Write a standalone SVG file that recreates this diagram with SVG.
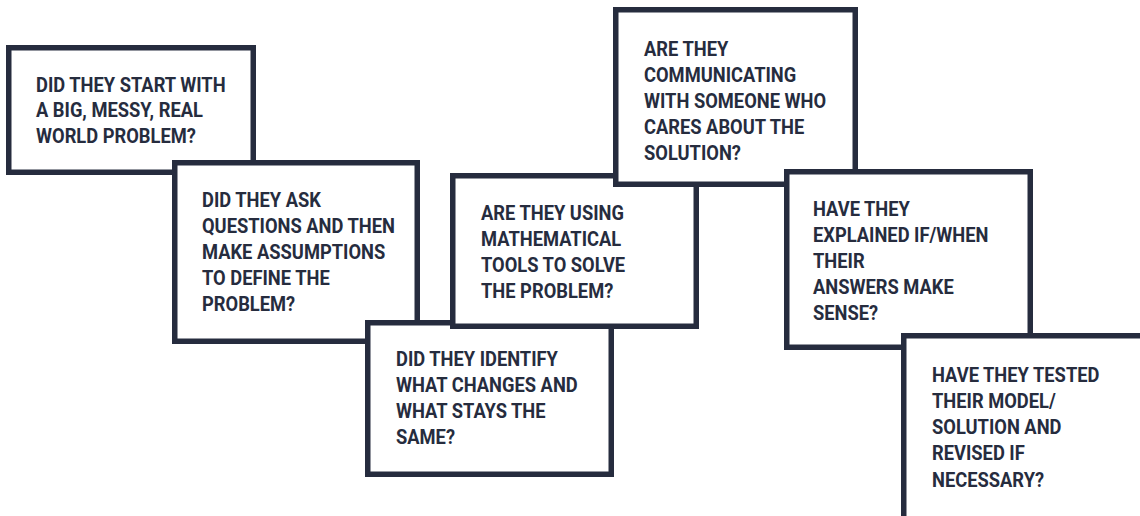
<svg xmlns="http://www.w3.org/2000/svg" width="1140" height="516" viewBox="0 0 1140 516">
<style>
.box{fill:#ffffff;stroke:#262c3e;stroke-width:5.5}
.t{font-family:Roboto,"Liberation Sans",sans-serif;font-weight:700;font-size:19.8px;fill:#262c3e}
</style>
<rect width="1140" height="516" fill="#ffffff"/>
<g id="connectors"/>
<g id="n1">
<rect class="box" x="8.75" y="47.75" width="244.5" height="124.5"/>
<text class="t" transform="translate(36 0) scale(0.925 1)"><tspan x="0" y="92">DID THEY START WITH</tspan><tspan x="0" y="117.5">A BIG, MESSY, REAL</tspan><tspan x="0" y="143">WORLD PROBLEM?</tspan></text>
</g>
<g id="n2">
<rect class="box" x="174.75" y="162.75" width="242.5" height="178.5"/>
<text class="t" transform="translate(202 0) scale(0.925 1)"><tspan x="0" y="207">DID THEY ASK</tspan><tspan x="0" y="233">QUESTIONS AND THEN</tspan><tspan x="0" y="259">MAKE ASSUMPTIONS</tspan><tspan x="0" y="285">TO DEFINE THE</tspan><tspan x="0" y="311">PROBLEM?</tspan></text>
</g>
<g id="n3">
<rect class="box" x="367.75" y="322.75" width="243.5" height="151.5"/>
<text class="t" transform="translate(396 0) scale(0.925 1)"><tspan x="0" y="366">DID THEY IDENTIFY</tspan><tspan x="0" y="392">WHAT CHANGES AND</tspan><tspan x="0" y="418">WHAT STAYS THE</tspan><tspan x="0" y="444">SAME?</tspan></text>
</g>
<g id="n4">
<rect class="box" x="452.75" y="175.75" width="243.5" height="150.5"/>
<text class="t" transform="translate(481 0) scale(0.925 1)"><tspan x="0" y="220">ARE THEY USING</tspan><tspan x="0" y="246">MATHEMATICAL</tspan><tspan x="0" y="272">TOOLS TO SOLVE</tspan><tspan x="0" y="298">THE PROBLEM?</tspan></text>
</g>
<g id="n5">
<rect class="box" x="615.75" y="9.75" width="239.5" height="174.5"/>
<text class="t" transform="translate(644 0) scale(0.925 1)"><tspan x="0" y="56">ARE THEY</tspan><tspan x="0" y="82">COMMUNICATING</tspan><tspan x="0" y="108">WITH SOMEONE WHO</tspan><tspan x="0" y="134">CARES ABOUT THE</tspan><tspan x="0" y="160">SOLUTION?</tspan></text>
</g>
<g id="n6">
<rect class="box" x="786.75" y="171.75" width="243.5" height="175.5"/>
<text class="t" transform="translate(813 0) scale(0.925 1)"><tspan x="0" y="216">HAVE THEY</tspan><tspan x="0" y="242">EXPLAINED IF/WHEN</tspan><tspan x="0" y="268">THEIR</tspan><tspan x="0" y="294">ANSWERS MAKE</tspan><tspan x="0" y="320">SENSE?</tspan></text>
</g>
<g id="n7">
<rect class="box" x="903.75" y="335.75" width="250" height="200"/>
<text class="t" transform="translate(932 0) scale(0.925 1)"><tspan x="0" y="382">HAVE THEY TESTED</tspan><tspan x="0" y="408">THEIR MODEL/</tspan><tspan x="0" y="434">SOLUTION AND</tspan><tspan x="0" y="460">REVISED IF</tspan><tspan x="0" y="487">NECESSARY?</tspan></text>
</g>
</svg>
